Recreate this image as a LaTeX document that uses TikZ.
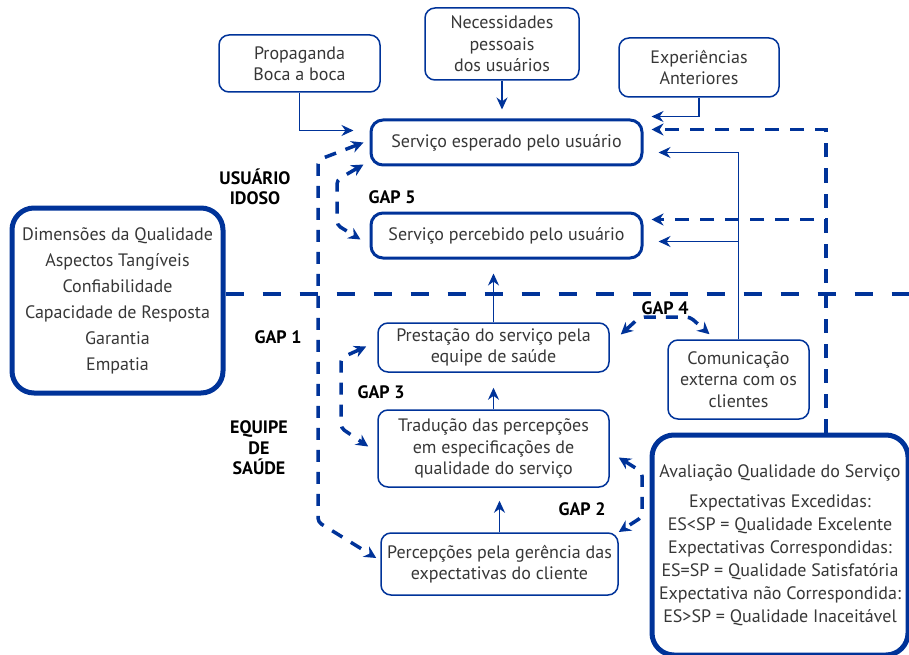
\documentclass[tikz,border=0pt]{standalone}
\usepackage{fontspec}
\setmainfont{PT Sans}
\usetikzlibrary{arrows.meta,calc}
\definecolor{gapblue}{RGB}{0,51,153}
\definecolor{boxtext}{RGB}{55,55,55}
\begin{document}
\begin{tikzpicture}[x=1pt,y=-1pt,
    box/.style={draw=gapblue,line width=1.5pt,rounded corners=10pt,align=center,
      text=boxtext,font=\fontsize{18}{21.5}\selectfont,inner sep=0pt},
    mainbox/.style={box,line width=3pt,rounded corners=12pt},
    bigbox/.style={box,line width=5pt,rounded corners=22pt},
    gaplabel/.style={align=center,font=\fontsize{18}{20.5}\selectfont\bfseries},
    arr/.style={draw=gapblue,line width=1.5pt,-{Stealth[length=12pt,width=11pt]}},
    gapline/.style={draw=gapblue,line width=3.5pt,dash pattern=on 12pt off 10pt,
      rounded corners=4pt,{Stealth[length=12pt,width=12pt]}-{Stealth[length=12pt,width=12pt]}},
    feedback/.style={draw=gapblue,line width=3.5pt,dash pattern=on 14pt off 11pt,
      -{Stealth[length=12pt,width=12pt]}},
    divider/.style={draw=gapblue,line width=4.5pt,dash pattern=on 18pt off 19pt}]
  \useasboundingbox (0,0) rectangle (909,655);
  \node[box,minimum width=161pt,minimum height=57pt] (prop) at (299.5,63.5) {Propaganda\\Boca a boca};
  \node[box,minimum width=154pt,minimum height=72pt] (nec) at (502,44) {Necessidades\\pessoais\\dos usuários};
  \node[box,minimum width=160pt,minimum height=59pt] (exp) at (699,67.5) {Experiências\\Anteriores};
  \node[mainbox,minimum width=271pt,minimum height=45pt] (esp) at (506.5,142.5) {Serviço esperado pelo usuário};
  \node[mainbox,minimum width=271pt,minimum height=45pt] (perc) at (506.5,235.5) {Serviço percebido pelo usuário};
  \node[bigbox,minimum width=211pt,minimum height=185pt,font=\fontsize{18}{26}\selectfont] (dim) at (117.5,300.5)
    {Dimensões da Qualidade\\Aspectos Tangíveis\\Confiabilidade\\Capacidade de Resposta\\Garantia\\Empatia};
  \node[box,minimum width=231pt,minimum height=49pt] (prest) at (493.5,347.5) {Prestação do serviço pela\\equipe de saúde};
  \node[box,minimum width=231pt,minimum height=77pt] (trad) at (493.5,448.5)
    {Tradução das percepções\\em especificações de\\qualidade do serviço};
  \node[box,minimum width=237pt,minimum height=62pt] (percg) at (499.5,564)
    {Percepções pela gerência das\\expectativas do cliente};
  \node[box,minimum width=141pt,minimum height=79pt] (com) at (738.5,379.5) {Comunicação\\externa com os\\clientes};
  \node[bigbox,minimum width=256pt,minimum height=220pt,font=\fontsize{18}{23}\selectfont] (aval) at (780,545)
    {Avaliação Qualidade do Serviço\\[7pt]Expectativas Excedidas:\\ES<SP = Qualidade Excelente\\
     Expectativas Correspondidas:\\ES=SP = Qualidade Satisfatória\\Expectativa não Correspondida:\\
     ES>SP = Qualidade Inaceitável};
  \node[gaplabel] (usr) at (255,187) {USUÁRIO\\IDOSO};
  \node[gaplabel] (eqp) at (259,448) {EQUIPE\\DE\\SAÚDE};
  \node[gaplabel] (g5) at (392,197) {GAP 5};
  \node[gaplabel] (g1) at (278,337) {GAP 1};
  \node[gaplabel] (g3) at (381,392) {GAP 3};
  \node[gaplabel] (g2) at (582,509) {GAP 2};
  \node[gaplabel] (g4) at (665,308) {GAP 4};
  \coordinate (edge) at (912,294);
  \begin{scope}
    \draw[divider] ([yshift=6.5pt]dim.east) -- (edge);
    \draw[arr,shorten >=16pt] (prop.south) |- ([yshift=12pt]esp.west);
    \draw[arr,shorten >=9pt] (nec.south) -- (nec.south |- esp.north);
    \draw[arr,shorten >=8pt] (exp.south) |- ([yshift=26pt]esp.east);
    \draw[arr,shorten >=15pt] (com.north) |- ([yshift=-10pt]esp.east);
    \draw[arr,shorten >=15pt] (com.north) |- ([yshift=-6pt]perc.east);
    \draw[feedback,shorten >=8pt] ([xshift=46pt]aval.north) |- ([yshift=13pt]esp.east);
    \draw[feedback,shorten >=8pt] ([xshift=46pt]aval.north) |- ([yshift=16pt]perc.east);
    \draw[arr,shorten >=14pt] (prest.north) -- (prest.north |- perc.south);
    \draw[arr,shorten >=15pt] (trad.north) -- (prest.south);
    \draw[arr,shorten >=13pt] (percg.north) -- (percg.north |- trad.south);
    \draw[gapline] ($(esp.west)+(-6,22)$) -- (337,180) -- (337,225) -- ($(perc.west)+(-9,4)$);
    \draw[gapline] ($(esp.west)+(-6,0)$) -- (318,160) -- (318,522) -- ($(percg.west)+(-4,-6)$);
    \draw[gapline] ($(prest.west)+(-11,-1)$) -- (341,358) -- (341,428) -- ($(trad.west)+(-9,-2)$);
    \draw[gapline] ($(trad.east)+(9,9)$) -- (642,472) -- (642,517) -- ($(percg.east)+(0,-32)$);
    \draw[gapline] ($(prest.east)+(11,-13)$) -- (640,317) -- (690,317) -- ($(com.north)+(-29,-5)$);
  \end{scope}
\end{tikzpicture}
\end{document}
